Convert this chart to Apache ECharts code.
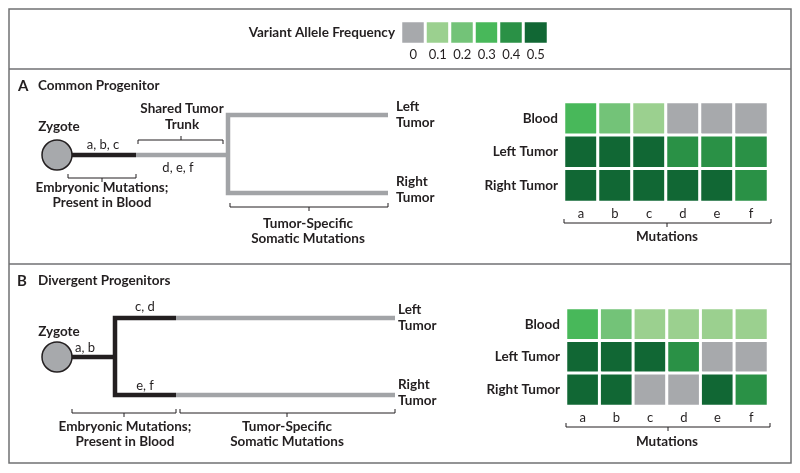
<!DOCTYPE html>
<html>
<head>
<meta charset="utf-8">
<script src="https://cdn.jsdelivr.net/npm/echarts@6/dist/echarts.min.js"></script>
<style>
html,body{margin:0;padding:0;background:#fff;}
#chart{width:800px;height:473px;}
</style>
</head>
<body>
<div id="chart"></div>
<script>
// ---------- DATA ----------
const mutations = ['a', 'b', 'c', 'd', 'e', 'f'];
const samples = ['Blood', 'Left Tumor', 'Right Tumor'];
const vafLevels = [0, 0.1, 0.2, 0.3, 0.4, 0.5];
const vafLabels = ['0', '0.1', '0.2', '0.3', '0.4', '0.5'];
const vafColors = ['#a7a9ac', '#9bd08f', '#73c378', '#48b85a', '#2a9146', '#116734'];

// Panel A: Common Progenitor (rows = samples, cols = mutations)
const commonBlood = [0.3, 0.2, 0.1, 0, 0, 0];
const commonLeft  = [0.5, 0.5, 0.5, 0.4, 0.4, 0.4];
const commonRight = [0.5, 0.5, 0.5, 0.5, 0.5, 0.4];
// Panel B: Divergent Progenitors
const divergentBlood = [0.3, 0.2, 0.1, 0.1, 0.1, 0.1];
const divergentLeft  = [0.5, 0.5, 0.5, 0.4, 0, 0];
const divergentRight = [0.5, 0.5, 0, 0, 0.5, 0.4];

// Tree branch paths (branch-length units; y = lineage position)
const treeA_embryonic = [[0, 40], [79, 40]];
const treeA_trunk     = [[79, 40], [171, 40]];
const treeA_tumors    = [[331, 0], [171, 0], [171, 78], [331, 78]];
const treeA_zygote    = [[0, 40]];

const treeB_embryonicStem = [[0, 39], [58, 39]];
const treeB_embryonicFork = [[119, 0], [58, 0], [58, 77], [119, 77]];
const treeB_leftTumor     = [[119, 0], [338, 0]];
const treeB_rightTumor    = [[119, 77], [338, 77]];
const treeB_zygote        = [[0, 39]];

// ---------- BUILD ----------
function toCells(rows) {
  const out = [];
  rows.forEach((r, yi) => r.forEach((v, xi) => out.push([xi, yi, v])));
  return out;
}
const FONT = 'Lato';
const DARK = '#231f20';
const GRAY_LINE = '#a2a4a7';
const FRAME = '#707173';

const chart = echarts.init(document.getElementById('chart'), null, {renderer: 'canvas'});

const heatGrids = [
  {left: 401, top: 21, width: 147, height: 23},   // legend
  {left: 564, top: 102, width: 204, height: 100}, // A
  {left: 566, top: 308, width: 202, height: 98}   // B
];
const treeGrids = [
  {left: 57, top: 115, width: 331, height: 78},
  {left: 57, top: 318, width: 338, height: 77}
];

const grids = heatGrids.concat(treeGrids).map(g => Object.assign({containLabel: false}, g));

const xAxes = [
  {gridIndex: 0, type: 'category', data: vafLabels, axisLine: {show: false}, axisTick: {show: false},
   axisLabel: {margin: 4, fontFamily: FONT, fontSize: 13, color: DARK}},
  {gridIndex: 1, type: 'category', data: mutations, axisLine: {show: false}, axisTick: {show: false},
   axisLabel: {margin: 5, fontFamily: FONT, fontSize: 13, color: DARK}},
  {gridIndex: 2, type: 'category', data: mutations, axisLine: {show: false}, axisTick: {show: false},
   axisLabel: {margin: 5, fontFamily: FONT, fontSize: 13, color: DARK}},
  {gridIndex: 3, type: 'value', min: 0, max: 331, show: false},
  {gridIndex: 4, type: 'value', min: 0, max: 338, show: false}
];
const yAxes = [
  {gridIndex: 0, type: 'category', data: [''], show: false},
  {gridIndex: 1, type: 'category', data: samples, inverse: true, axisLine: {show: false}, axisTick: {show: false},
   axisLabel: {margin: 6, fontFamily: FONT, fontSize: 13.5, fontWeight: 'bold', color: DARK}},
  {gridIndex: 2, type: 'category', data: samples, inverse: true, axisLine: {show: false}, axisTick: {show: false},
   axisLabel: {margin: 6, fontFamily: FONT, fontSize: 13.5, fontWeight: 'bold', color: DARK}},
  {gridIndex: 3, type: 'value', min: 0, max: 78, inverse: true, show: false},
  {gridIndex: 4, type: 'value', min: 0, max: 77, inverse: true, show: false}
];

const cellStyle = {borderColor: '#ffffff', borderWidth: 3};
function lineSeries(idx, data, color) {
  return {type: 'line', xAxisIndex: idx, yAxisIndex: idx, data: data, symbol: 'none', clip: false,
    silent: true, animation: false, z: 3,
    lineStyle: {color: color, width: 4.5, cap: 'butt', join: 'miter'}};
}
function zygote(idx, data) {
  return {type: 'scatter', xAxisIndex: idx, yAxisIndex: idx, data: data, symbol: 'circle', symbolSize: 30,
    clip: false, silent: true, animation: false, z: 5,
    itemStyle: {color: '#a7a9ac', borderColor: DARK, borderWidth: 1.5, opacity: 1}};
}

const series = [
  {type: 'heatmap', xAxisIndex: 0, yAxisIndex: 0, data: vafLevels.map((v, i) => [i, 0, v]), itemStyle: cellStyle, silent: true},
  {type: 'heatmap', xAxisIndex: 1, yAxisIndex: 1, data: toCells([commonBlood, commonLeft, commonRight]), itemStyle: cellStyle, silent: true},
  {type: 'heatmap', xAxisIndex: 2, yAxisIndex: 2, data: toCells([divergentBlood, divergentLeft, divergentRight]), itemStyle: cellStyle, silent: true},
  lineSeries(3, treeA_embryonic, DARK),
  lineSeries(3, treeA_trunk, GRAY_LINE),
  lineSeries(3, treeA_tumors, GRAY_LINE),
  zygote(3, treeA_zygote),
  lineSeries(4, treeB_embryonicStem, DARK),
  lineSeries(4, treeB_embryonicFork, DARK),
  lineSeries(4, treeB_leftTumor, GRAY_LINE),
  lineSeries(4, treeB_rightTumor, GRAY_LINE),
  zygote(4, treeB_zygote)
];

// ---------- ANNOTATIONS (layout) ----------
function txt(x, y, s, opt) {
  opt = opt || {};
  return {type: 'text', x: x, y: y, silent: true, z: 10,
    style: {text: s, fontFamily: FONT, fontSize: opt.size || 13.5, fontWeight: opt.bold === false ? 'normal' : 'bold',
      fill: DARK, textAlign: opt.align || 'center', textVerticalAlign: 'middle'}};
}
function bracket(x1, x2, y, endDir, midX) {
  // endDir: -1 ends point up, +1 ends point down; middle tick opposite
  const t = 4;
  return [
    {type: 'polyline', silent: true, z: 10, shape: {points: [[x1, y + endDir * t], [x1, y], [x2, y], [x2, y + endDir * t]]},
     style: {stroke: DARK, lineWidth: 1, fill: null}},
    {type: 'line', silent: true, z: 10, shape: {x1: midX, y1: y, x2: midX, y2: y - endDir * t},
     style: {stroke: DARK, lineWidth: 1}}
  ];
}

let graphics = [
  {type: 'rect', silent: true, z: 1, shape: {x: 9, y: 9, width: 782, height: 454}, style: {fill: null, stroke: FRAME, lineWidth: 1.5}},
  {type: 'line', silent: true, z: 1, shape: {x1: 9, y1: 69, x2: 791, y2: 69}, style: {stroke: FRAME, lineWidth: 1.5}},
  {type: 'line', silent: true, z: 1, shape: {x1: 9, y1: 264, x2: 791, y2: 264}, style: {stroke: FRAME, lineWidth: 1.5}},
  txt(395, 33, 'Variant Allele Frequency', {align: 'right'}),
  // Panel A
  txt(18, 86, 'A', {align: 'left', size: 15}),
  txt(38, 86, 'Common Progenitor', {align: 'left'}),
  txt(59, 127, 'Zygote'),
  txt(103, 145, 'a, b, c', {bold: false, size: 13}),
  txt(182, 109, 'Shared Tumor'),
  txt(182, 125, 'Trunk'),
  txt(178, 168, 'd, e, f', {bold: false, size: 13}),
  txt(102, 188, 'Embryonic Mutations;'),
  txt(102, 203, 'Present in Blood'),
  txt(308, 224, 'Tumor-Specific'),
  txt(308, 239, 'Somatic Mutations'),
  txt(396, 107, 'Left', {align: 'left'}),
  txt(396, 123, 'Tumor', {align: 'left'}),
  txt(396, 182, 'Right', {align: 'left'}),
  txt(396, 198, 'Tumor', {align: 'left'}),
  txt(667, 237, 'Mutations'),
  // Panel B
  txt(17, 281, 'B', {align: 'left', size: 15}),
  txt(38, 281, 'Divergent Progenitors', {align: 'left'}),
  txt(59, 332, 'Zygote'),
  txt(85, 348, 'a, b', {bold: false, size: 13}),
  txt(145, 307, 'c, d', {bold: false, size: 13}),
  txt(145, 386, 'e, f', {bold: false, size: 13}),
  txt(125, 427, 'Embryonic Mutations;'),
  txt(125, 442, 'Present in Blood'),
  txt(287, 427, 'Tumor-Specific'),
  txt(287, 442, 'Somatic Mutations'),
  txt(398, 310, 'Left', {align: 'left'}),
  txt(398, 326, 'Tumor', {align: 'left'}),
  txt(398, 385, 'Right', {align: 'left'}),
  txt(398, 401, 'Tumor', {align: 'left'}),
  txt(667, 442, 'Mutations')
];
graphics = graphics
  .concat(bracket(68, 136, 178, -1, 102))
  .concat(bracket(138, 223, 140, 1, 181))
  .concat(bracket(230, 388, 207, -1, 309))
  .concat(bracket(564, 771, 223, -1, 667))
  .concat(bracket(72, 176, 413, -1, 124))
  .concat(bracket(180, 395, 413, -1, 287))
  .concat(bracket(566, 770, 427, -1, 668));

chart.setOption({
  animation: false,
  backgroundColor: '#ffffff',
  grid: grids,
  xAxis: xAxes,
  yAxis: yAxes,
  visualMap: {
    type: 'piecewise', show: false, seriesIndex: [0, 1, 2], dimension: 2,
    pieces: vafLevels.map((v, i) => ({min: v - 0.05, max: v + 0.05, color: vafColors[i]}))
  },
  series: series,
  graphic: graphics
});
</script>
</body>
</html>
